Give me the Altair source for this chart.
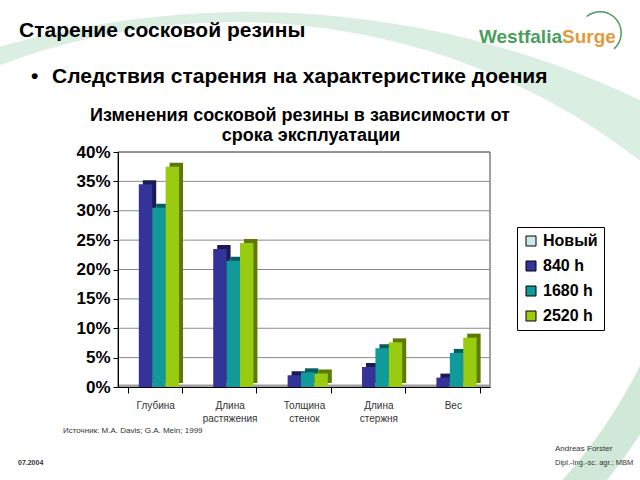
import altair as alt
import pandas as pd

# ---------------- data ----------------
categories = ["Глубина", "Длина\nрастяжения", "Толщина\nстенок", "Длина\nстержня", "Вес"]
series = ["Новый", "840 h", "1680 h", "2520 h"]
new_vals = [0, 0, 0, 0, 0]
h840_vals = [0.345, 0.235, 0.020, 0.034, 0.016]
h1680_vals = [0.305, 0.215, 0.025, 0.066, 0.058]
h2520_vals = [0.375, 0.245, 0.023, 0.076, 0.084]
y_ticks = [0, 0.05, 0.10, 0.15, 0.20, 0.25, 0.30, 0.35, 0.40]

front_colors = ["#cce9e9", "#333399", "#109a9a", "#99cc11"]
side_colors = ["#9a9a9a", "#1a1a55", "#055e5e", "#5d7a05"]

slide_title = "Старение сосковой резины"
bullet_text = "Следствия старения на характеристике доения"
chart_title_lines = ["Изменения сосковой резины в зависимости от", "срока эксплуатации"]
source_text = "Источник: M.A. Davis; G.A. Mein; 1999"
date_text = "07.2004"
author_lines = ["Andreas Forster", "Dipl.-Ing.-sc. agr.; MBM"]
logo_parts = ["Westfalia", "Surge"]

rows = []
for s, vals in zip(series, [new_vals, h840_vals, h1680_vals, h2520_vals]):
    for c, v in zip(categories, vals):
        rows.append({"Категория": c, "Серия": s, "Значение": v})
df = pd.DataFrame(rows)

# ---------------- layout ----------------
W, H = 372, 235
PL, PT = 118, 152
FONT = "Liberation Sans"
one = pd.DataFrame({"a": [0]})


def px(x):
    return alt.value(x - PL)


def py(y):
    return alt.value(y - PT)


def txt(text, x, y, size, weight="normal", color="black", align="left"):
    return alt.Chart(pd.DataFrame({"t": [text]})).mark_text(
        font=FONT, fontSize=size, fontWeight=weight, color=color,
        align=align, baseline="alphabetic"
    ).encode(text="t:N", x=px(x), y=py(y))


# background swooshes
outer = alt.Chart(one).mark_arc(radius=913, radius2=0, theta=0, theta2=6.2832,
                                color="#dbeee2").encode(x=px(249), y=py(925))
inner = alt.Chart(one).mark_arc(radius=660, radius2=0, theta=0, theta2=6.2832,
                                color="white").encode(x=px(235), y=py(682))
stripe = alt.Chart(one).mark_arc(radius=490, radius2=524, theta=1.85, theta2=2.7,
                                 color="#cfe8d7").encode(x=px(200), y=py(150))
logo_arc = alt.Chart(one).mark_arc(radius=22, radius2=20.5, theta=5.6, theta2=8.7,
                                   color="#4a9e5c").encode(x=px(600), y=py(33))

plot_bg = alt.Chart(one).mark_rect(fill="white", stroke="#404040", strokeWidth=1).encode(
    x=alt.value(0), x2=alt.value(W), y=alt.value(0), y2=alt.value(H))

y_axis = alt.Axis(values=y_ticks, format=".0%", grid=False, zindex=1, title=None,
                  labelFontSize=17, labelFont=FONT, labelFontWeight="bold", labelColor="black",
                  tickColor="black", tickSize=5, domainColor="black", labelPadding=3)
y_scale = alt.Scale(domain=[0, 0.4], nice=False)

grid = alt.Chart(pd.DataFrame({"Значение": y_ticks})).mark_rule(color="#8a8a8a", strokeWidth=1).encode(
    y=alt.Y("Значение:Q", scale=y_scale, axis=y_axis))

floor = alt.Chart(pd.DataFrame({"Значение": [0]})).mark_rule(color="#a0a0a0", strokeWidth=3, yOffset=-1).encode(
    y=alt.Y("Значение:Q", scale=y_scale, axis=y_axis))

x_enc = alt.X("Категория:N", sort=categories,
              scale=alt.Scale(domain=categories, paddingInner=0.28, paddingOuter=0.14),
              axis=alt.Axis(title=None, labelAngle=0, labelExpr="split(datum.label, '\\n')",
                            labelFontSize=10, labelFont=FONT, labelColor="#333333",
                            labelLineHeight=13, labelPadding=7, tickBand="extent",
                            tickSize=6, tickColor="black", domainColor="black",
                            grid=False, zindex=1))
y_enc = alt.Y("Значение:Q", scale=y_scale, axis=y_axis)

side = alt.Chart(df).mark_bar(yOffset=-4).encode(
    x=x_enc, y=y_enc,
    xOffset=alt.XOffset("Серия:N", sort=series, scale=alt.Scale(domain=series, range=[1, 54.6])),
    color=alt.Color("Серия:N", sort=series, scale=alt.Scale(domain=series, range=side_colors),
                    legend=None),
)

front = alt.Chart(df).mark_bar().encode(
    x=x_enc, y=y_enc,
    xOffset=alt.XOffset("Серия:N", sort=series, scale=alt.Scale(domain=series, range=[-3, 50.6])),
    color=alt.Color("Серия:N", sort=series, scale=alt.Scale(domain=series, range=front_colors),
                    legend=alt.Legend(orient="none", legendX=399, legendY=75, title=None,
                                      strokeColor="black", fillColor="white", padding=6,
                                      symbolType="square", symbolSize=100,
                                      symbolStrokeColor="black", symbolStrokeWidth=1,
                                      symbolOpacity=1, labelFontSize=16, labelFont=FONT,
                                      labelFontWeight="bold",
                                      labelColor="black", rowPadding=9)),
)

texts = [
    txt(slide_title, 19, 37, 21, "bold"),
    txt("•", 31, 83, 21, "bold"),
    txt(bullet_text, 52, 83, 21, "bold"),
    txt(chart_title_lines[0], 300, 121, 18, "bold", align="center"),
    txt(chart_title_lines[1], 311, 141, 18, "bold", align="center"),
    txt(logo_parts[0], 562, 43, 19, "bold", color="#4a9e5c", align="right"),
    txt(logo_parts[1], 562, 43, 19, "bold", color="#e39a3c", align="left"),
    txt(source_text, 63, 433, 8, color="#333333"),
    txt(date_text, 18, 465, 7, "bold", color="#333333"),
    txt(author_lines[0], 555, 451, 8, color="#333333"),
    txt(author_lines[1], 555, 465, 7.5, color="#333333"),
]

chart = alt.layer(outer, inner, stripe, logo_arc, plot_bg, grid, floor, side, front, *texts).resolve_scale(
    color="independent", xOffset="independent"
).properties(
    width=W, height=H,
    autosize=alt.AutoSizeParams(type="none"),
    padding={"left": PL, "top": PT, "right": 640 - PL - W, "bottom": 480 - PT - H},
    background="white",
).configure_view(stroke=None)

chart.save("out.html", embed_options={"renderer": "svg", "actions": False})
